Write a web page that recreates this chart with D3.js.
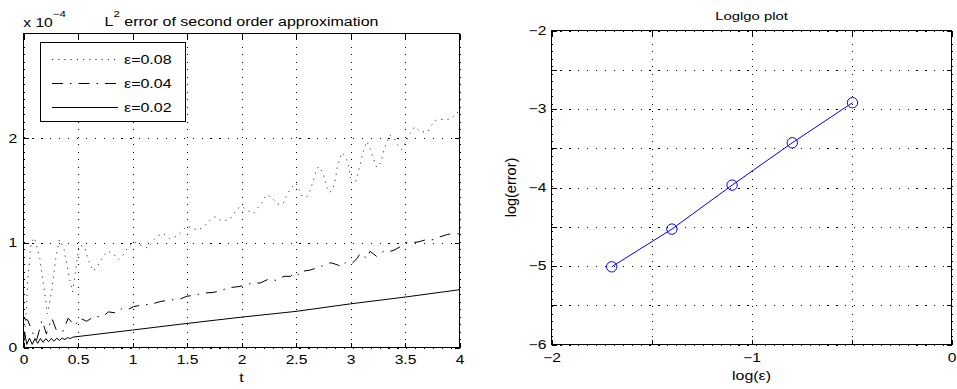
<!DOCTYPE html>
<html>
<head>
<meta charset="utf-8">
<script src="https://cdn.jsdelivr.net/npm/d3@7"></script>
<style>
  body { margin: 0; background: #fff; }
  svg text { font-family: "Liberation Sans", Arial, sans-serif; fill: #000; }
</style>
</head>
<body>
<svg id="chart" width="957" height="389"></svg>
<script>
// ---- data ----
// L2 error (x 1e-4) against t, one [t, error] pair per point
const eps08 = [[0,0.02],[0.02,0.25],[0.04,0.65],[0.07,1.00],[0.10,1.05],[0.15,0.85],[0.19,0.55],[0.22,0.32],
  [0.26,0.55],[0.30,0.88],[0.33,1.03],[0.37,0.95],[0.41,0.72],[0.45,0.53],[0.48,0.75],[0.51,0.98],[0.56,0.96],
  [0.60,0.82],[0.64,0.73],[0.68,0.78],[0.72,0.85],[0.77,0.92],[0.82,0.90],[0.87,0.84],[0.91,0.88],[0.96,0.96],
  [1.01,1.01],[1.07,0.98],[1.14,0.95],[1.22,1.06],[1.28,1.09],[1.34,1.04],[1.40,1.06],[1.45,1.11],[1.50,1.16],
  [1.60,1.12],[1.66,1.16],[1.71,1.22],[1.76,1.25],[1.82,1.21],[1.89,1.22],[1.93,1.28],[1.97,1.33],[2.00,1.35],
  [2.05,1.31],[2.11,1.28],[2.19,1.39],[2.23,1.46],[2.28,1.43],[2.33,1.37],[2.38,1.37],[2.41,1.44],[2.45,1.52],
  [2.50,1.57],[2.56,1.44],[2.60,1.44],[2.63,1.50],[2.69,1.70],[2.71,1.73],[2.75,1.66],[2.78,1.54],[2.81,1.48],
  [2.84,1.53],[2.86,1.60],[2.88,1.73],[2.92,1.86],[2.96,1.81],[2.98,1.75],[3.00,1.62],[3.05,1.59],[3.08,1.71],
  [3.11,1.85],[3.15,1.97],[3.18,1.90],[3.20,1.84],[3.24,1.72],[3.28,1.77],[3.31,1.90],[3.36,2.03],[3.40,2.00],
  [3.43,1.94],[3.47,1.89],[3.50,1.95],[3.53,2.02],[3.59,2.11],[3.64,2.06],[3.71,2.06],[3.74,2.12],[3.78,2.17],
  [3.85,2.18],[3.92,2.18],[3.97,2.24],[4.00,2.25]];

const eps04 = [[0,0.28],[0.04,0.26],[0.08,0.15],[0.12,0.07],[0.17,0.26],[0.21,0.13],[0.26,0.28],[0.30,0.17],
  [0.36,0.15],[0.41,0.28],[0.47,0.21],[0.52,0.28],[0.58,0.25],[0.65,0.30],[0.72,0.29],[0.78,0.34],[0.85,0.33],
  [0.90,0.37],[0.95,0.36],[1.01,0.39],[1.10,0.41],[1.16,0.41],[1.26,0.44],[1.35,0.455],[1.43,0.46],[1.50,0.49],
  [1.58,0.50],[1.64,0.52],[1.73,0.525],[1.81,0.54],[1.87,0.57],[1.96,0.58],[2.02,0.59],[2.08,0.61],[2.11,0.62],
  [2.17,0.615],[2.24,0.65],[2.28,0.65],[2.32,0.64],[2.39,0.68],[2.45,0.68],[2.49,0.72],[2.53,0.69],[2.57,0.73],
  [2.63,0.74],[2.69,0.76],[2.74,0.78],[2.82,0.81],[2.88,0.79],[2.92,0.77],[2.95,0.81],[3.01,0.80],[3.06,0.85],
  [3.09,0.90],[3.15,0.85],[3.18,0.92],[3.24,0.87],[3.32,0.93],[3.37,0.92],[3.40,0.93],[3.46,0.965],[3.50,1.00],
  [3.55,1.00],[3.63,1.01],[3.69,1.03],[3.76,1.03],[3.83,1.06],[3.89,1.08],[3.95,1.09],[4.00,1.085]];

const eps02 = [[0,0.02],[0.01,0.15],[0.03,0.03],[0.055,0.09],[0.08,0.03],[0.105,0.085],[0.13,0.04],
  [0.155,0.085],[0.18,0.05],[0.205,0.085],[0.23,0.055],[0.255,0.085],[0.28,0.06],[0.305,0.088],[0.33,0.068],
  [0.355,0.09],[0.38,0.075],[0.405,0.095],[0.43,0.085],[0.455,0.10],[0.50,0.105],[1,0.167],[1.5,0.23],
  [2,0.29],[2.5,0.345],[3,0.417],[3.5,0.482],[4,0.552]];

const legendLabels = ['ε=0.08', 'ε=0.04', 'ε=0.02'];
const tTicks = [0, 0.5, 1, 1.5, 2, 2.5, 3, 3.5, 4];
const tTickLabels = ['0', '0.5', '1', '1.5', '2', '2.5', '3', '3.5', '4'];
const errTicks = [0, 1, 2];
const errTickLabels = ['0', '1', '2'];

// loglog panel
const logEps = [-1.699, -1.398, -1.097, -0.796, -0.495];
const logErr = [-5.01, -4.53, -3.97, -3.43, -2.92];
const logEpsTicks = [-2, -1.5, -1, -0.5, 0];
const logEpsTickLabels = ['−2', '', '−1', '', '0'];
const logErrTicks = [-6, -5.5, -5, -4.5, -4, -3.5, -3, -2.5, -2];
const logErrTickLabels = ['−6', '', '−5', '', '−4', '', '−3', '', '−2'];

// ---- drawing ----
const SX = 1.28;          // the picture is stretched sideways, so is its text
const FONT = 12.2;
const svg = d3.select('#chart');

function styleText(sel, size) {
  sel.attr('font-family', '"Liberation Sans", Arial, sans-serif').attr('font-size', size);
}

// grid, inward ticks and frame for one panel
function drawAxes(box, xs, ys, xTicks, xLabels, yTicks, yLabels, xPad, yPad) {
  const h = box.bottom - box.top, w = box.right - box.left;
  const g = svg.append('g');

  // dotted grid
  const gx = g.append('g').attr('transform', `translate(0,${box.bottom})`)
    .call(d3.axisBottom(xs).tickValues(xTicks).tickSize(-h).tickFormat(''));
  gx.select('.domain').remove();
  gx.selectAll('line').attr('stroke', '#000').attr('stroke-dasharray', '1,6.5')
    .attr('shape-rendering', 'crispEdges');
  const gy = g.append('g').attr('transform', `translate(${box.left},0)`)
    .call(d3.axisLeft(ys).tickValues(yTicks).tickSize(-w).tickFormat(''));
  gy.select('.domain').remove();
  gy.selectAll('line').attr('stroke', '#000').attr('stroke-dasharray', '1.2,7.7')
    .attr('shape-rendering', 'crispEdges');

  // labelled axes (bottom, left)
  const ab = g.append('g').attr('transform', `translate(0,${box.bottom})`)
    .call(d3.axisBottom(xs).tickValues(xTicks).tickSizeInner(-5).tickSizeOuter(0)
      .tickPadding(xPad).tickFormat((d, i) => xLabels[i]));
  const al = g.append('g').attr('transform', `translate(${box.left},0)`)
    .call(d3.axisLeft(ys).tickValues(yTicks).tickSizeInner(-5).tickSizeOuter(0)
      .tickPadding(yPad).tickFormat((d, i) => yLabels[i]));
  // mirrored ticks (top, right)
  const at = g.append('g').attr('transform', `translate(0,${box.top})`)
    .call(d3.axisTop(xs).tickValues(xTicks).tickSizeInner(-5).tickSizeOuter(0).tickFormat(''));
  const ar = g.append('g').attr('transform', `translate(${box.right},0)`)
    .call(d3.axisRight(ys).tickValues(yTicks).tickSizeInner(-5).tickSizeOuter(0).tickFormat(''));

  [ab, al, at, ar].forEach(a => {
    a.select('.domain').remove();
    a.selectAll('line').attr('stroke', '#000').attr('shape-rendering', 'crispEdges');
  });
  [ab, al].forEach(a => {
    styleText(a, FONT);
    a.selectAll('text').attr('fill', '#000').attr('transform', `scale(${SX},1)`);
  });

  g.append('rect')
    .attr('x', box.left).attr('y', box.top).attr('width', w).attr('height', h)
    .attr('fill', 'none').attr('stroke', '#000').attr('stroke-width', 1)
    .attr('shape-rendering', 'crispEdges');
  return g;
}

// ---- left panel: L2 error ----
const L = { left: 23.5, right: 459.5, top: 33.5, bottom: 347.5 };
const x1 = d3.scaleLinear().domain([0, 4]).range([L.left, L.right]);
const y1 = d3.scaleLinear().domain([0, 3]).range([L.bottom, L.top]);

const line1 = d3.line().x(d => x1(d[0])).y(d => y1(d[1]));
const seriesStyle = [
  { data: eps08, dash: '1.2,5', color: '#333' },
  { data: eps04, dash: '11,7,1.5,7', color: '#000' },
  { data: eps02, dash: null, color: '#000' }
];

const plot1 = svg.append('g');
seriesStyle.forEach(s => {
  plot1.append('path').datum(s.data)
    .attr('d', line1).attr('fill', 'none')
    .attr('stroke', s.color).attr('stroke-width', 1)
    .attr('stroke-dasharray', s.dash);
});
drawAxes(L, x1, y1, tTicks, tTickLabels, errTicks, errTickLabels, 8, 5);
plot1.raise();
// keep frame on top of curves
svg.selectAll('rect').raise();

// legend
const leg = svg.append('g');
leg.append('rect').attr('x', 40.5).attr('y', 42.5).attr('width', 145).attr('height', 79)
  .attr('fill', '#fff').attr('stroke', '#000').attr('shape-rendering', 'crispEdges');
legendLabels.forEach((lab, i) => {
  const yy = 59.5 + i * 24;
  leg.append('line').attr('x1', 52).attr('x2', 118).attr('y1', yy).attr('y2', yy)
    .attr('stroke', seriesStyle[i].color).attr('stroke-width', 1)
    .attr('stroke-dasharray', seriesStyle[i].dash);
  leg.append('text').attr('transform', `translate(124,${yy + 4.5}) scale(${SX},1)`)
    .attr('font-size', 12.5).text(lab);
});

// exponent and title
const expo = svg.append('text').attr('transform', `translate(23.3,26.7) scale(${SX},1)`)
  .attr('font-size', 12.2);
expo.append('tspan').text('x 10');
expo.append('tspan').attr('font-size', 9).attr('dy', -10).text('−4');

const title1 = svg.append('text').attr('transform', `translate(${(L.left + L.right) / 2},26) scale(${SX},1)`)
  .attr('text-anchor', 'middle').attr('font-size', 12.5);
title1.append('tspan').text('L');
title1.append('tspan').attr('font-size', 9).attr('dy', -9).text('2');
title1.append('tspan').attr('dy', 9).text(' error of second order approximation');

svg.append('text').attr('transform', `translate(${(L.left + L.right) / 2},381.5) scale(${SX},1)`)
  .attr('text-anchor', 'middle').attr('font-size', 12.5).text('t');

// ---- right panel: loglog ----
const R = { left: 551.5, right: 951.5, top: 30.5, bottom: 344.5 };
const x2 = d3.scaleLinear().domain([-2, 0]).range([R.left, R.right]);
const y2 = d3.scaleLinear().domain([-6, -2]).range([R.bottom, R.top]);

drawAxes(R, x2, y2, logEpsTicks, logEpsTickLabels, logErrTicks, logErrTickLabels, 9, 4);

const pts = logEps.map((e, i) => [e, logErr[i]]);
svg.append('path').datum(pts)
  .attr('d', d3.line().x(d => x2(d[0])).y(d => y2(d[1])))
  .attr('fill', 'none').attr('stroke', '#0000ff').attr('stroke-width', 1);
svg.append('g').selectAll('circle').data(pts).join('circle')
  .attr('cx', d => x2(d[0])).attr('cy', d => y2(d[1])).attr('r', 5.2)
  .attr('fill', 'none').attr('stroke', '#0000ff').attr('stroke-width', 1);

svg.append('text').attr('transform', `translate(${(R.left + R.right) / 2},20) scale(${SX},1)`)
  .attr('text-anchor', 'middle').attr('font-size', 11.6).text('Loglgo plot');
svg.append('text').attr('transform', `translate(${(R.left + R.right) / 2},380) scale(${SX},1)`)
  .attr('text-anchor', 'middle').attr('font-size', 12.5).text('log(ε)');
svg.append('text').attr('transform', `translate(516,${(R.top + R.bottom) / 2}) rotate(-90)`)
  .attr('text-anchor', 'middle').attr('font-size', 14.5).text('log(error)');
</script>
</body>
</html>
